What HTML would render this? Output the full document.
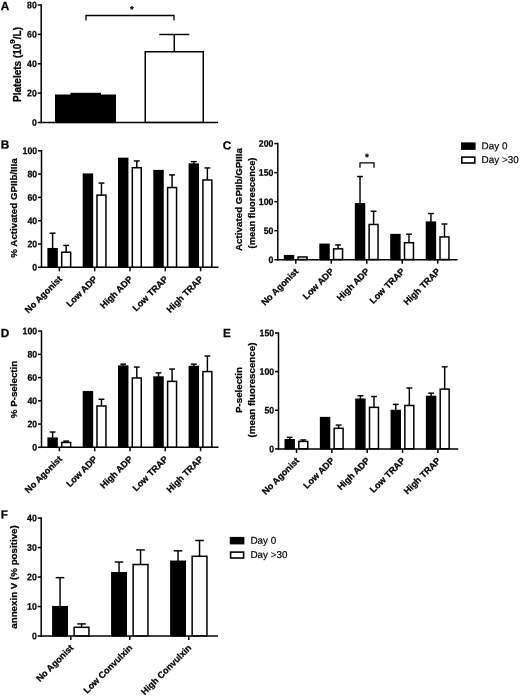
<!DOCTYPE html>
<html><head><meta charset="utf-8"><title>Figure</title>
<style>
html,body{margin:0;padding:0;background:#fff}
svg{display:block;font-family:"Liberation Sans",Arial,sans-serif;fill:#000}
text{stroke:#000;stroke-width:0.25px;stroke-linejoin:round}
</style></head><body>
<svg width="520" height="696" viewBox="0 0 520 696">
<rect x="0" y="0" width="520" height="696" fill="#fff"/>
<text x="0.80" y="10.00" font-size="11.8" font-weight="bold" text-anchor="start" transform="rotate(0.03 0.80 10.00)">A</text>
<line x1="41.20" y1="4.25" x2="41.20" y2="123.25" stroke="#000" stroke-width="1.5"/>
<line x1="40.45" y1="122.50" x2="218.00" y2="122.50" stroke="#000" stroke-width="1.5"/>
<line x1="37.70" y1="5.00" x2="41.20" y2="5.00" stroke="#000" stroke-width="1.5"/>
<text transform="translate(36.80 8.25) rotate(0.03) scale(0.92 1)" font-size="9.5" font-weight="bold" text-anchor="end">80</text>
<line x1="37.70" y1="34.38" x2="41.20" y2="34.38" stroke="#000" stroke-width="1.5"/>
<text transform="translate(36.80 37.62) rotate(0.03) scale(0.92 1)" font-size="9.5" font-weight="bold" text-anchor="end">60</text>
<line x1="37.70" y1="63.75" x2="41.20" y2="63.75" stroke="#000" stroke-width="1.5"/>
<text transform="translate(36.80 67.00) rotate(0.03) scale(0.92 1)" font-size="9.5" font-weight="bold" text-anchor="end">40</text>
<line x1="37.70" y1="93.12" x2="41.20" y2="93.12" stroke="#000" stroke-width="1.5"/>
<text transform="translate(36.80 96.38) rotate(0.03) scale(0.92 1)" font-size="9.5" font-weight="bold" text-anchor="end">20</text>
<line x1="37.70" y1="122.50" x2="41.20" y2="122.50" stroke="#000" stroke-width="1.5"/>
<text transform="translate(36.80 125.75) rotate(0.03) scale(0.92 1)" font-size="9.5" font-weight="bold" text-anchor="end">0</text>
<rect x="55.75" y="95.25" width="59.50" height="27.10" fill="#000" stroke="#000" stroke-width="1.5"/>
<rect x="70.5" y="92.8" width="30.5" height="2.5" fill="#000"/>
<line x1="174.25" y1="34.50" x2="174.25" y2="51.50" stroke="#000" stroke-width="1.45"/>
<line x1="159.25" y1="34.50" x2="189.25" y2="34.50" stroke="#000" stroke-width="1.45"/>
<rect x="145.25" y="51.75" width="58.00" height="70.60" fill="#fff" stroke="#000" stroke-width="1.5"/>
<polyline points="86,20.5 86,15.5 174,15.5 174,20.5" fill="none" stroke="#000" stroke-width="1.3"/>
<text x="131.80" y="12.40" font-size="9.3" font-weight="bold" text-anchor="middle" transform="rotate(0.03 131.80 12.40)">*</text>
<text font-size="10" font-weight="bold" text-anchor="middle" transform="translate(20.6 64.5) rotate(-90)">Platelets (10<tspan dy="-5.6" font-size="8">9</tspan><tspan dy="5.6">/L)</tspan></text>
<text x="0.80" y="148.50" font-size="11.8" font-weight="bold" text-anchor="start" transform="rotate(0.03 0.80 148.50)">B</text>
<line x1="41.50" y1="150.05" x2="41.50" y2="268.05" stroke="#000" stroke-width="1.5"/>
<line x1="40.75" y1="267.30" x2="218.50" y2="267.30" stroke="#000" stroke-width="1.5"/>
<line x1="38.00" y1="150.80" x2="41.50" y2="150.80" stroke="#000" stroke-width="1.5"/>
<text transform="translate(37.10 154.05) rotate(0.03) scale(0.92 1)" font-size="9.5" font-weight="bold" text-anchor="end">100</text>
<line x1="38.00" y1="174.10" x2="41.50" y2="174.10" stroke="#000" stroke-width="1.5"/>
<text transform="translate(37.10 177.35) rotate(0.03) scale(0.92 1)" font-size="9.5" font-weight="bold" text-anchor="end">80</text>
<line x1="38.00" y1="197.40" x2="41.50" y2="197.40" stroke="#000" stroke-width="1.5"/>
<text transform="translate(37.10 200.65) rotate(0.03) scale(0.92 1)" font-size="9.5" font-weight="bold" text-anchor="end">60</text>
<line x1="38.00" y1="220.70" x2="41.50" y2="220.70" stroke="#000" stroke-width="1.5"/>
<text transform="translate(37.10 223.95) rotate(0.03) scale(0.92 1)" font-size="9.5" font-weight="bold" text-anchor="end">40</text>
<line x1="38.00" y1="244.00" x2="41.50" y2="244.00" stroke="#000" stroke-width="1.5"/>
<text transform="translate(37.10 247.25) rotate(0.03) scale(0.92 1)" font-size="9.5" font-weight="bold" text-anchor="end">20</text>
<line x1="38.00" y1="267.30" x2="41.50" y2="267.30" stroke="#000" stroke-width="1.5"/>
<text transform="translate(37.10 270.55) rotate(0.03) scale(0.92 1)" font-size="9.5" font-weight="bold" text-anchor="end">0</text>
<line x1="59.40" y1="267.30" x2="59.40" y2="271.30" stroke="#000" stroke-width="1.5"/>
<line x1="94.70" y1="267.30" x2="94.70" y2="271.30" stroke="#000" stroke-width="1.5"/>
<line x1="130.00" y1="267.30" x2="130.00" y2="271.30" stroke="#000" stroke-width="1.5"/>
<line x1="165.30" y1="267.30" x2="165.30" y2="271.30" stroke="#000" stroke-width="1.5"/>
<line x1="200.60" y1="267.30" x2="200.60" y2="271.30" stroke="#000" stroke-width="1.5"/>
<line x1="52.62" y1="233.17" x2="52.62" y2="248.46" stroke="#000" stroke-width="1.45"/>
<line x1="49.70" y1="233.17" x2="55.55" y2="233.17" stroke="#000" stroke-width="1.45"/>
<rect x="48.15" y="248.71" width="8.95" height="18.44" fill="#000" stroke="#000" stroke-width="1.5"/>
<line x1="66.17" y1="245.40" x2="66.17" y2="251.96" stroke="#000" stroke-width="1.45"/>
<line x1="63.25" y1="245.40" x2="69.10" y2="245.40" stroke="#000" stroke-width="1.45"/>
<rect x="61.70" y="252.21" width="8.95" height="14.94" fill="#fff" stroke="#000" stroke-width="1.5"/>
<rect x="83.45" y="174.15" width="8.95" height="93.00" fill="#000" stroke="#000" stroke-width="1.5"/>
<line x1="101.47" y1="183.07" x2="101.47" y2="194.87" stroke="#000" stroke-width="1.45"/>
<line x1="98.55" y1="183.07" x2="104.40" y2="183.07" stroke="#000" stroke-width="1.45"/>
<rect x="97.00" y="195.12" width="8.95" height="72.03" fill="#fff" stroke="#000" stroke-width="1.5"/>
<rect x="118.75" y="158.42" width="8.95" height="108.73" fill="#000" stroke="#000" stroke-width="1.5"/>
<line x1="136.78" y1="160.94" x2="136.78" y2="167.49" stroke="#000" stroke-width="1.45"/>
<line x1="133.85" y1="160.94" x2="139.70" y2="160.94" stroke="#000" stroke-width="1.45"/>
<rect x="132.30" y="167.74" width="8.95" height="99.41" fill="#fff" stroke="#000" stroke-width="1.5"/>
<rect x="154.05" y="170.66" width="8.95" height="96.49" fill="#000" stroke="#000" stroke-width="1.5"/>
<line x1="172.08" y1="174.92" x2="172.08" y2="187.30" stroke="#000" stroke-width="1.45"/>
<line x1="169.15" y1="174.92" x2="175.00" y2="174.92" stroke="#000" stroke-width="1.45"/>
<rect x="167.60" y="187.55" width="8.95" height="79.60" fill="#fff" stroke="#000" stroke-width="1.5"/>
<line x1="193.82" y1="161.63" x2="193.82" y2="163.88" stroke="#000" stroke-width="1.45"/>
<line x1="190.90" y1="161.63" x2="196.75" y2="161.63" stroke="#000" stroke-width="1.45"/>
<rect x="189.35" y="164.13" width="8.95" height="103.02" fill="#000" stroke="#000" stroke-width="1.5"/>
<line x1="207.38" y1="167.93" x2="207.38" y2="179.73" stroke="#000" stroke-width="1.45"/>
<line x1="204.45" y1="167.93" x2="210.30" y2="167.93" stroke="#000" stroke-width="1.45"/>
<rect x="202.90" y="179.98" width="8.95" height="87.17" fill="#fff" stroke="#000" stroke-width="1.5"/>
<text x="62.60" y="279.60" font-size="9.1" font-weight="bold" text-anchor="end" transform="rotate(-45 62.60 279.60)">No Agonist</text>
<text x="97.90" y="279.60" font-size="9.1" font-weight="bold" text-anchor="end" transform="rotate(-45 97.90 279.60)">Low ADP</text>
<text x="133.20" y="279.60" font-size="9.1" font-weight="bold" text-anchor="end" transform="rotate(-45 133.20 279.60)">High ADP</text>
<text x="168.50" y="279.60" font-size="9.1" font-weight="bold" text-anchor="end" transform="rotate(-45 168.50 279.60)">Low TRAP</text>
<text x="203.80" y="279.60" font-size="9.1" font-weight="bold" text-anchor="end" transform="rotate(-45 203.80 279.60)">High TRAP</text>
<text font-size="9.75" font-weight="bold" text-anchor="middle" transform="translate(17.1 208) rotate(-90)">% Activated GPIIb/IIIa</text>
<text x="222.70" y="149.50" font-size="11.8" font-weight="bold" text-anchor="start" transform="rotate(0.03 222.70 149.50)">C</text>
<line x1="277.80" y1="142.85" x2="277.80" y2="260.45" stroke="#000" stroke-width="1.5"/>
<line x1="277.05" y1="259.70" x2="457.50" y2="259.70" stroke="#000" stroke-width="1.5"/>
<line x1="274.30" y1="143.60" x2="277.80" y2="143.60" stroke="#000" stroke-width="1.5"/>
<text transform="translate(273.40 146.85) rotate(0.03) scale(0.92 1)" font-size="9.5" font-weight="bold" text-anchor="end">200</text>
<line x1="274.30" y1="172.62" x2="277.80" y2="172.62" stroke="#000" stroke-width="1.5"/>
<text transform="translate(273.40 175.88) rotate(0.03) scale(0.92 1)" font-size="9.5" font-weight="bold" text-anchor="end">150</text>
<line x1="274.30" y1="201.65" x2="277.80" y2="201.65" stroke="#000" stroke-width="1.5"/>
<text transform="translate(273.40 204.90) rotate(0.03) scale(0.92 1)" font-size="9.5" font-weight="bold" text-anchor="end">100</text>
<line x1="274.30" y1="230.67" x2="277.80" y2="230.67" stroke="#000" stroke-width="1.5"/>
<text transform="translate(273.40 233.92) rotate(0.03) scale(0.92 1)" font-size="9.5" font-weight="bold" text-anchor="end">50</text>
<line x1="274.30" y1="259.70" x2="277.80" y2="259.70" stroke="#000" stroke-width="1.5"/>
<text transform="translate(273.40 262.95) rotate(0.03) scale(0.92 1)" font-size="9.5" font-weight="bold" text-anchor="end">0</text>
<line x1="295.80" y1="259.70" x2="295.80" y2="263.70" stroke="#000" stroke-width="1.5"/>
<line x1="331.30" y1="259.70" x2="331.30" y2="263.70" stroke="#000" stroke-width="1.5"/>
<line x1="366.80" y1="259.70" x2="366.80" y2="263.70" stroke="#000" stroke-width="1.5"/>
<line x1="402.20" y1="259.70" x2="402.20" y2="263.70" stroke="#000" stroke-width="1.5"/>
<line x1="437.70" y1="259.70" x2="437.70" y2="263.70" stroke="#000" stroke-width="1.5"/>
<rect x="284.55" y="255.69" width="8.95" height="3.86" fill="#000" stroke="#000" stroke-width="1.5"/>
<rect x="298.10" y="256.97" width="8.95" height="2.58" fill="#fff" stroke="#000" stroke-width="1.5"/>
<rect x="320.05" y="244.31" width="8.95" height="15.24" fill="#000" stroke="#000" stroke-width="1.5"/>
<line x1="338.08" y1="244.90" x2="338.08" y2="248.59" stroke="#000" stroke-width="1.45"/>
<line x1="335.15" y1="244.90" x2="341.00" y2="244.90" stroke="#000" stroke-width="1.45"/>
<rect x="333.60" y="248.84" width="8.95" height="10.71" fill="#fff" stroke="#000" stroke-width="1.5"/>
<line x1="360.02" y1="176.51" x2="360.02" y2="203.60" stroke="#000" stroke-width="1.45"/>
<line x1="357.10" y1="176.51" x2="362.95" y2="176.51" stroke="#000" stroke-width="1.45"/>
<rect x="355.55" y="203.85" width="8.95" height="55.70" fill="#000" stroke="#000" stroke-width="1.5"/>
<line x1="373.58" y1="211.23" x2="373.58" y2="224.21" stroke="#000" stroke-width="1.45"/>
<line x1="370.65" y1="211.23" x2="376.50" y2="211.23" stroke="#000" stroke-width="1.45"/>
<rect x="369.10" y="224.46" width="8.95" height="35.09" fill="#fff" stroke="#000" stroke-width="1.5"/>
<rect x="390.95" y="234.62" width="8.95" height="24.93" fill="#000" stroke="#000" stroke-width="1.5"/>
<line x1="408.98" y1="234.16" x2="408.98" y2="242.49" stroke="#000" stroke-width="1.45"/>
<line x1="406.05" y1="234.16" x2="411.90" y2="234.16" stroke="#000" stroke-width="1.45"/>
<rect x="404.50" y="242.74" width="8.95" height="16.81" fill="#fff" stroke="#000" stroke-width="1.5"/>
<line x1="430.92" y1="213.55" x2="430.92" y2="221.89" stroke="#000" stroke-width="1.45"/>
<line x1="428.00" y1="213.55" x2="433.85" y2="213.55" stroke="#000" stroke-width="1.45"/>
<rect x="426.45" y="222.14" width="8.95" height="37.41" fill="#000" stroke="#000" stroke-width="1.5"/>
<line x1="444.48" y1="224.00" x2="444.48" y2="236.69" stroke="#000" stroke-width="1.45"/>
<line x1="441.55" y1="224.00" x2="447.40" y2="224.00" stroke="#000" stroke-width="1.45"/>
<rect x="440.00" y="236.94" width="8.95" height="22.61" fill="#fff" stroke="#000" stroke-width="1.5"/>
<text x="299.00" y="272.00" font-size="9.1" font-weight="bold" text-anchor="end" transform="rotate(-45 299.00 272.00)">No Agonist</text>
<text x="334.50" y="272.00" font-size="9.1" font-weight="bold" text-anchor="end" transform="rotate(-45 334.50 272.00)">Low ADP</text>
<text x="370.00" y="272.00" font-size="9.1" font-weight="bold" text-anchor="end" transform="rotate(-45 370.00 272.00)">High ADP</text>
<text x="405.40" y="272.00" font-size="9.1" font-weight="bold" text-anchor="end" transform="rotate(-45 405.40 272.00)">Low TRAP</text>
<text x="440.90" y="272.00" font-size="9.1" font-weight="bold" text-anchor="end" transform="rotate(-45 440.90 272.00)">High TRAP</text>
<text font-size="9.8" font-weight="bold" text-anchor="middle" transform="translate(241.7 199.5) rotate(-90)">Activated GPIIb/GPIIIa</text>
<text font-size="9.35" font-weight="bold" text-anchor="middle" transform="translate(254.6 203) rotate(-90)">(mean fluorescence)</text>
<polyline points="360,167.8 360,162.8 374,162.8 374,167.8" fill="none" stroke="#000" stroke-width="1.3"/>
<text x="367.00" y="160.50" font-size="10" font-weight="bold" text-anchor="middle" transform="rotate(0.03 367.00 160.50)">*</text>
<rect x="461.8" y="143.20000000000002" width="13.0" height="5.9" fill="#000" stroke="#000" stroke-width="1.6"/>
<rect x="461.8" y="157.10000000000002" width="13.0" height="5.9" fill="#fff" stroke="#000" stroke-width="1.6"/>
<text x="481.60" y="149.20" font-size="9.9" font-weight="normal" text-anchor="start" transform="rotate(0.03 481.60 149.20)" style="stroke-width:0.2px">Day 0</text>
<text x="481.60" y="163.10" font-size="9.9" font-weight="normal" text-anchor="start" transform="rotate(0.03 481.60 163.10)" style="stroke-width:0.2px">Day &gt;30</text>
<text x="0.80" y="337.00" font-size="11.8" font-weight="bold" text-anchor="start" transform="rotate(0.03 0.80 337.00)">D</text>
<line x1="41.50" y1="330.35" x2="41.50" y2="448.05" stroke="#000" stroke-width="1.5"/>
<line x1="40.75" y1="447.30" x2="218.50" y2="447.30" stroke="#000" stroke-width="1.5"/>
<line x1="38.00" y1="331.10" x2="41.50" y2="331.10" stroke="#000" stroke-width="1.5"/>
<text transform="translate(37.10 334.35) rotate(0.03) scale(0.92 1)" font-size="9.5" font-weight="bold" text-anchor="end">100</text>
<line x1="38.00" y1="354.34" x2="41.50" y2="354.34" stroke="#000" stroke-width="1.5"/>
<text transform="translate(37.10 357.59) rotate(0.03) scale(0.92 1)" font-size="9.5" font-weight="bold" text-anchor="end">80</text>
<line x1="38.00" y1="377.58" x2="41.50" y2="377.58" stroke="#000" stroke-width="1.5"/>
<text transform="translate(37.10 380.83) rotate(0.03) scale(0.92 1)" font-size="9.5" font-weight="bold" text-anchor="end">60</text>
<line x1="38.00" y1="400.82" x2="41.50" y2="400.82" stroke="#000" stroke-width="1.5"/>
<text transform="translate(37.10 404.07) rotate(0.03) scale(0.92 1)" font-size="9.5" font-weight="bold" text-anchor="end">40</text>
<line x1="38.00" y1="424.06" x2="41.50" y2="424.06" stroke="#000" stroke-width="1.5"/>
<text transform="translate(37.10 427.31) rotate(0.03) scale(0.92 1)" font-size="9.5" font-weight="bold" text-anchor="end">20</text>
<line x1="38.00" y1="447.30" x2="41.50" y2="447.30" stroke="#000" stroke-width="1.5"/>
<text transform="translate(37.10 450.55) rotate(0.03) scale(0.92 1)" font-size="9.5" font-weight="bold" text-anchor="end">0</text>
<line x1="59.40" y1="447.30" x2="59.40" y2="451.30" stroke="#000" stroke-width="1.5"/>
<line x1="94.70" y1="447.30" x2="94.70" y2="451.30" stroke="#000" stroke-width="1.5"/>
<line x1="130.00" y1="447.30" x2="130.00" y2="451.30" stroke="#000" stroke-width="1.5"/>
<line x1="165.30" y1="447.30" x2="165.30" y2="451.30" stroke="#000" stroke-width="1.5"/>
<line x1="200.60" y1="447.30" x2="200.60" y2="451.30" stroke="#000" stroke-width="1.5"/>
<line x1="52.62" y1="432.02" x2="52.62" y2="437.92" stroke="#000" stroke-width="1.45"/>
<line x1="49.70" y1="432.02" x2="55.55" y2="432.02" stroke="#000" stroke-width="1.45"/>
<rect x="48.15" y="438.17" width="8.95" height="8.98" fill="#000" stroke="#000" stroke-width="1.5"/>
<line x1="66.17" y1="441.08" x2="66.17" y2="442.22" stroke="#000" stroke-width="1.45"/>
<line x1="63.25" y1="441.08" x2="69.10" y2="441.08" stroke="#000" stroke-width="1.45"/>
<rect x="61.70" y="442.47" width="8.95" height="4.68" fill="#fff" stroke="#000" stroke-width="1.5"/>
<rect x="83.45" y="391.69" width="8.95" height="55.46" fill="#000" stroke="#000" stroke-width="1.5"/>
<line x1="101.47" y1="399.25" x2="101.47" y2="405.74" stroke="#000" stroke-width="1.45"/>
<line x1="98.55" y1="399.25" x2="104.40" y2="399.25" stroke="#000" stroke-width="1.45"/>
<rect x="97.00" y="405.99" width="8.95" height="41.16" fill="#fff" stroke="#000" stroke-width="1.5"/>
<line x1="123.22" y1="364.16" x2="123.22" y2="365.88" stroke="#000" stroke-width="1.45"/>
<line x1="120.30" y1="364.16" x2="126.15" y2="364.16" stroke="#000" stroke-width="1.45"/>
<rect x="118.75" y="366.13" width="8.95" height="81.02" fill="#000" stroke="#000" stroke-width="1.5"/>
<line x1="136.78" y1="367.06" x2="136.78" y2="377.73" stroke="#000" stroke-width="1.45"/>
<line x1="133.85" y1="367.06" x2="139.70" y2="367.06" stroke="#000" stroke-width="1.45"/>
<rect x="132.30" y="377.98" width="8.95" height="69.17" fill="#fff" stroke="#000" stroke-width="1.5"/>
<line x1="158.53" y1="372.87" x2="158.53" y2="376.80" stroke="#000" stroke-width="1.45"/>
<line x1="155.60" y1="372.87" x2="161.45" y2="372.87" stroke="#000" stroke-width="1.45"/>
<rect x="154.05" y="377.05" width="8.95" height="70.10" fill="#000" stroke="#000" stroke-width="1.5"/>
<line x1="172.08" y1="369.04" x2="172.08" y2="381.10" stroke="#000" stroke-width="1.45"/>
<line x1="169.15" y1="369.04" x2="175.00" y2="369.04" stroke="#000" stroke-width="1.45"/>
<rect x="167.60" y="381.35" width="8.95" height="65.80" fill="#fff" stroke="#000" stroke-width="1.5"/>
<line x1="193.82" y1="364.16" x2="193.82" y2="366.23" stroke="#000" stroke-width="1.45"/>
<line x1="190.90" y1="364.16" x2="196.75" y2="364.16" stroke="#000" stroke-width="1.45"/>
<rect x="189.35" y="366.48" width="8.95" height="80.67" fill="#000" stroke="#000" stroke-width="1.5"/>
<line x1="207.38" y1="356.02" x2="207.38" y2="371.34" stroke="#000" stroke-width="1.45"/>
<line x1="204.45" y1="356.02" x2="210.30" y2="356.02" stroke="#000" stroke-width="1.45"/>
<rect x="202.90" y="371.59" width="8.95" height="75.56" fill="#fff" stroke="#000" stroke-width="1.5"/>
<text x="62.60" y="459.60" font-size="9.1" font-weight="bold" text-anchor="end" transform="rotate(-45 62.60 459.60)">No Agonist</text>
<text x="97.90" y="459.60" font-size="9.1" font-weight="bold" text-anchor="end" transform="rotate(-45 97.90 459.60)">Low ADP</text>
<text x="133.20" y="459.60" font-size="9.1" font-weight="bold" text-anchor="end" transform="rotate(-45 133.20 459.60)">High ADP</text>
<text x="168.50" y="459.60" font-size="9.1" font-weight="bold" text-anchor="end" transform="rotate(-45 168.50 459.60)">Low TRAP</text>
<text x="203.80" y="459.60" font-size="9.1" font-weight="bold" text-anchor="end" transform="rotate(-45 203.80 459.60)">High TRAP</text>
<text font-size="9.75" font-weight="bold" text-anchor="middle" transform="translate(17.0 389.5) rotate(-90)">% P-selectin</text>
<text x="222.90" y="337.00" font-size="11.8" font-weight="bold" text-anchor="start" transform="rotate(0.03 222.90 337.00)">E</text>
<line x1="278.50" y1="332.25" x2="278.50" y2="449.65" stroke="#000" stroke-width="1.5"/>
<line x1="277.75" y1="448.90" x2="458.30" y2="448.90" stroke="#000" stroke-width="1.5"/>
<line x1="275.00" y1="333.00" x2="278.50" y2="333.00" stroke="#000" stroke-width="1.5"/>
<text transform="translate(274.10 336.25) rotate(0.03) scale(0.92 1)" font-size="9.5" font-weight="bold" text-anchor="end">150</text>
<line x1="275.00" y1="371.63" x2="278.50" y2="371.63" stroke="#000" stroke-width="1.5"/>
<text transform="translate(274.10 374.88) rotate(0.03) scale(0.92 1)" font-size="9.5" font-weight="bold" text-anchor="end">100</text>
<line x1="275.00" y1="410.27" x2="278.50" y2="410.27" stroke="#000" stroke-width="1.5"/>
<text transform="translate(274.10 413.52) rotate(0.03) scale(0.92 1)" font-size="9.5" font-weight="bold" text-anchor="end">50</text>
<line x1="275.00" y1="448.90" x2="278.50" y2="448.90" stroke="#000" stroke-width="1.5"/>
<text transform="translate(274.10 452.15) rotate(0.03) scale(0.92 1)" font-size="9.5" font-weight="bold" text-anchor="end">0</text>
<line x1="296.50" y1="448.90" x2="296.50" y2="452.90" stroke="#000" stroke-width="1.5"/>
<line x1="331.85" y1="448.90" x2="331.85" y2="452.90" stroke="#000" stroke-width="1.5"/>
<line x1="367.20" y1="448.90" x2="367.20" y2="452.90" stroke="#000" stroke-width="1.5"/>
<line x1="402.55" y1="448.90" x2="402.55" y2="452.90" stroke="#000" stroke-width="1.5"/>
<line x1="437.90" y1="448.90" x2="437.90" y2="452.90" stroke="#000" stroke-width="1.5"/>
<line x1="289.73" y1="437.31" x2="289.73" y2="439.55" stroke="#000" stroke-width="1.45"/>
<line x1="286.80" y1="437.31" x2="292.65" y2="437.31" stroke="#000" stroke-width="1.45"/>
<rect x="285.25" y="439.80" width="8.95" height="8.95" fill="#000" stroke="#000" stroke-width="1.5"/>
<line x1="303.27" y1="439.94" x2="303.27" y2="441.17" stroke="#000" stroke-width="1.45"/>
<line x1="300.35" y1="439.94" x2="306.20" y2="439.94" stroke="#000" stroke-width="1.45"/>
<rect x="298.80" y="441.42" width="8.95" height="7.33" fill="#fff" stroke="#000" stroke-width="1.5"/>
<rect x="320.60" y="417.62" width="8.95" height="31.13" fill="#000" stroke="#000" stroke-width="1.5"/>
<line x1="338.62" y1="425.10" x2="338.62" y2="428.04" stroke="#000" stroke-width="1.45"/>
<line x1="335.70" y1="425.10" x2="341.55" y2="425.10" stroke="#000" stroke-width="1.45"/>
<rect x="334.15" y="428.29" width="8.95" height="20.46" fill="#fff" stroke="#000" stroke-width="1.5"/>
<line x1="360.42" y1="395.74" x2="360.42" y2="398.98" stroke="#000" stroke-width="1.45"/>
<line x1="357.50" y1="395.74" x2="363.35" y2="395.74" stroke="#000" stroke-width="1.45"/>
<rect x="355.95" y="399.23" width="8.95" height="49.52" fill="#000" stroke="#000" stroke-width="1.5"/>
<line x1="373.98" y1="396.51" x2="373.98" y2="407.10" stroke="#000" stroke-width="1.45"/>
<line x1="371.05" y1="396.51" x2="376.90" y2="396.51" stroke="#000" stroke-width="1.45"/>
<rect x="369.50" y="407.35" width="8.95" height="41.40" fill="#fff" stroke="#000" stroke-width="1.5"/>
<line x1="395.77" y1="404.39" x2="395.77" y2="410.26" stroke="#000" stroke-width="1.45"/>
<line x1="392.85" y1="404.39" x2="398.70" y2="404.39" stroke="#000" stroke-width="1.45"/>
<rect x="391.30" y="410.51" width="8.95" height="38.24" fill="#000" stroke="#000" stroke-width="1.5"/>
<line x1="409.33" y1="388.01" x2="409.33" y2="405.24" stroke="#000" stroke-width="1.45"/>
<line x1="406.40" y1="388.01" x2="412.25" y2="388.01" stroke="#000" stroke-width="1.45"/>
<rect x="404.85" y="405.49" width="8.95" height="43.26" fill="#fff" stroke="#000" stroke-width="1.5"/>
<line x1="431.12" y1="393.19" x2="431.12" y2="396.20" stroke="#000" stroke-width="1.45"/>
<line x1="428.20" y1="393.19" x2="434.05" y2="393.19" stroke="#000" stroke-width="1.45"/>
<rect x="426.65" y="396.45" width="8.95" height="52.30" fill="#000" stroke="#000" stroke-width="1.5"/>
<line x1="444.67" y1="366.77" x2="444.67" y2="388.86" stroke="#000" stroke-width="1.45"/>
<line x1="441.75" y1="366.77" x2="447.60" y2="366.77" stroke="#000" stroke-width="1.45"/>
<rect x="440.20" y="389.11" width="8.95" height="59.64" fill="#fff" stroke="#000" stroke-width="1.5"/>
<text x="299.70" y="461.20" font-size="9.1" font-weight="bold" text-anchor="end" transform="rotate(-45 299.70 461.20)">No Agonist</text>
<text x="335.05" y="461.20" font-size="9.1" font-weight="bold" text-anchor="end" transform="rotate(-45 335.05 461.20)">Low ADP</text>
<text x="370.40" y="461.20" font-size="9.1" font-weight="bold" text-anchor="end" transform="rotate(-45 370.40 461.20)">High ADP</text>
<text x="405.75" y="461.20" font-size="9.1" font-weight="bold" text-anchor="end" transform="rotate(-45 405.75 461.20)">Low TRAP</text>
<text x="441.10" y="461.20" font-size="9.1" font-weight="bold" text-anchor="end" transform="rotate(-45 441.10 461.20)">High TRAP</text>
<text font-size="9.75" font-weight="bold" text-anchor="middle" transform="translate(241.5 390) rotate(-90)">P-selectin</text>
<text font-size="9.75" font-weight="bold" text-anchor="middle" transform="translate(254.6 390) rotate(-90)">(mean fluorescence)</text>
<text x="0.80" y="518.50" font-size="11.8" font-weight="bold" text-anchor="start" transform="rotate(0.03 0.80 518.50)">F</text>
<line x1="41.20" y1="517.35" x2="41.20" y2="636.75" stroke="#000" stroke-width="1.5"/>
<line x1="40.45" y1="636.00" x2="218.00" y2="636.00" stroke="#000" stroke-width="1.5"/>
<line x1="37.70" y1="518.10" x2="41.20" y2="518.10" stroke="#000" stroke-width="1.5"/>
<text transform="translate(36.80 521.35) rotate(0.03) scale(0.92 1)" font-size="9.5" font-weight="bold" text-anchor="end">40</text>
<line x1="37.70" y1="547.58" x2="41.20" y2="547.58" stroke="#000" stroke-width="1.5"/>
<text transform="translate(36.80 550.83) rotate(0.03) scale(0.92 1)" font-size="9.5" font-weight="bold" text-anchor="end">30</text>
<line x1="37.70" y1="577.05" x2="41.20" y2="577.05" stroke="#000" stroke-width="1.5"/>
<text transform="translate(36.80 580.30) rotate(0.03) scale(0.92 1)" font-size="9.5" font-weight="bold" text-anchor="end">20</text>
<line x1="37.70" y1="606.52" x2="41.20" y2="606.52" stroke="#000" stroke-width="1.5"/>
<text transform="translate(36.80 609.77) rotate(0.03) scale(0.92 1)" font-size="9.5" font-weight="bold" text-anchor="end">10</text>
<line x1="37.70" y1="636.00" x2="41.20" y2="636.00" stroke="#000" stroke-width="1.5"/>
<text transform="translate(36.80 639.25) rotate(0.03) scale(0.92 1)" font-size="9.5" font-weight="bold" text-anchor="end">0</text>
<line x1="70.80" y1="636.00" x2="70.80" y2="640.00" stroke="#000" stroke-width="1.5"/>
<line x1="129.80" y1="636.00" x2="129.80" y2="640.00" stroke="#000" stroke-width="1.5"/>
<line x1="188.80" y1="636.00" x2="188.80" y2="640.00" stroke="#000" stroke-width="1.5"/>
<line x1="60.05" y1="577.64" x2="60.05" y2="606.44" stroke="#000" stroke-width="1.45"/>
<line x1="55.75" y1="577.64" x2="64.35" y2="577.64" stroke="#000" stroke-width="1.45"/>
<rect x="52.85" y="606.69" width="14.40" height="29.16" fill="#000" stroke="#000" stroke-width="1.5"/>
<line x1="81.55" y1="623.92" x2="81.55" y2="627.07" stroke="#000" stroke-width="1.45"/>
<line x1="77.25" y1="623.92" x2="85.85" y2="623.92" stroke="#000" stroke-width="1.45"/>
<rect x="74.15" y="627.32" width="14.80" height="8.53" fill="#fff" stroke="#000" stroke-width="1.5"/>
<line x1="119.05" y1="562.02" x2="119.05" y2="572.54" stroke="#000" stroke-width="1.45"/>
<line x1="114.75" y1="562.02" x2="123.35" y2="562.02" stroke="#000" stroke-width="1.45"/>
<rect x="111.85" y="572.79" width="14.40" height="63.06" fill="#000" stroke="#000" stroke-width="1.5"/>
<line x1="140.55" y1="549.93" x2="140.55" y2="564.29" stroke="#000" stroke-width="1.45"/>
<line x1="136.25" y1="549.93" x2="144.85" y2="549.93" stroke="#000" stroke-width="1.45"/>
<rect x="133.15" y="564.54" width="14.80" height="71.31" fill="#fff" stroke="#000" stroke-width="1.5"/>
<line x1="178.05" y1="550.82" x2="178.05" y2="561.04" stroke="#000" stroke-width="1.45"/>
<line x1="173.75" y1="550.82" x2="182.35" y2="550.82" stroke="#000" stroke-width="1.45"/>
<rect x="170.85" y="561.29" width="14.40" height="74.56" fill="#000" stroke="#000" stroke-width="1.5"/>
<line x1="199.55" y1="540.50" x2="199.55" y2="556.03" stroke="#000" stroke-width="1.45"/>
<line x1="195.25" y1="540.50" x2="203.85" y2="540.50" stroke="#000" stroke-width="1.45"/>
<rect x="192.15" y="556.28" width="14.80" height="79.57" fill="#fff" stroke="#000" stroke-width="1.5"/>
<text x="74.00" y="648.30" font-size="9.1" font-weight="bold" text-anchor="end" transform="rotate(-45 74.00 648.30)">No Agonist</text>
<text x="133.00" y="648.30" font-size="9.1" font-weight="bold" text-anchor="end" transform="rotate(-45 133.00 648.30)">Low Convulxin</text>
<text x="192.00" y="648.30" font-size="9.1" font-weight="bold" text-anchor="end" transform="rotate(-45 192.00 648.30)">High Convulxin</text>
<text font-size="9.75" font-weight="bold" text-anchor="middle" transform="translate(17.0 577) rotate(-90)">annexin V (% positive)</text>
<rect x="230.60000000000002" y="537.6999999999999" width="13.0" height="5.9" fill="#000" stroke="#000" stroke-width="1.6"/>
<rect x="230.60000000000002" y="552.0999999999999" width="13.0" height="5.9" fill="#fff" stroke="#000" stroke-width="1.6"/>
<text x="250.40" y="543.70" font-size="9.9" font-weight="normal" text-anchor="start" transform="rotate(0.03 250.40 543.70)" style="stroke-width:0.2px">Day 0</text>
<text x="250.40" y="558.10" font-size="9.9" font-weight="normal" text-anchor="start" transform="rotate(0.03 250.40 558.10)" style="stroke-width:0.2px">Day &gt;30</text>
</svg>
</body></html>
